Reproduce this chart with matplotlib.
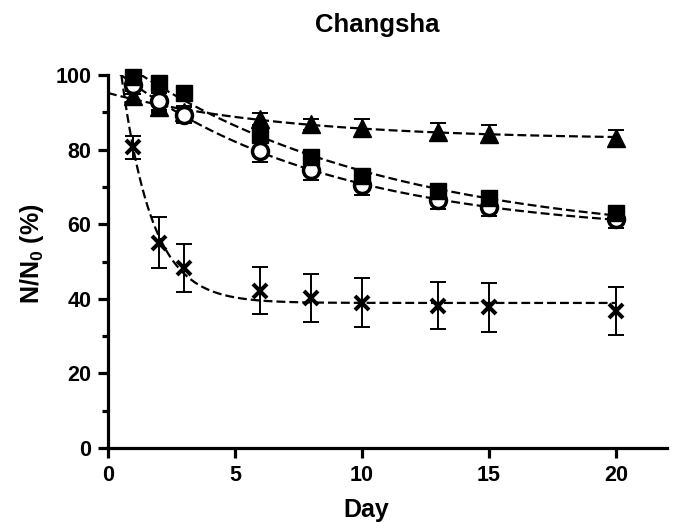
import numpy as np
import matplotlib
matplotlib.use('Agg')
import matplotlib.pyplot as plt

plt.rcParams['font.family'] = ['Liberation Sans', 'DejaVu Sans']
plt.rcParams['font.weight'] = 'bold'
plt.rcParams['mathtext.fontset'] = 'custom'
plt.rcParams['mathtext.rm'] = 'Liberation Sans:bold'
plt.rcParams['mathtext.it'] = 'Liberation Sans:bold'
plt.rcParams['mathtext.bf'] = 'Liberation Sans:bold'

# survival (% of initial) over days
days = np.array([1, 2, 3, 6, 8, 10, 13, 15, 20])
square = np.array([99.5, 97.8, 95.2, 84.0, 78.0, 73.0, 69.0, 67.0, 63.0])
square_err = np.array([1.2, 1.2, 1.2, 1.2, 1.2, 1.2, 1.2, 1.2, 1.2])
circle = np.array([97.3, 93.0, 89.3, 79.5, 74.5, 70.5, 66.5, 64.5, 61.5])
circle_err = np.array([2.5, 2.3, 2.3, 2.7, 2.7, 2.7, 2.3, 2.4, 2.4])
triangle = np.array([94.3, 91.5, 90.0, 88.2, 86.8, 85.8, 84.8, 84.2, 83.0])
triangle_err = np.array([1.5, 1.5, 1.5, 1.5, 1.5, 2.5, 2.4, 2.3, 2.3])
cross = np.array([80.6, 55.0, 48.2, 42.2, 40.2, 39.0, 38.2, 37.7, 36.7])
cross_err = np.array([3.1, 6.8, 6.5, 6.4, 6.5, 6.5, 6.4, 6.5, 6.5])


def fit_decay(x, y):
    # one-phase decay y = A*exp(-k*x) + C, grid over k, linear solve for A, C
    best = None
    for k in np.linspace(0.01, 3.0, 1500):
        basis = np.column_stack([np.exp(-k * x), np.ones_like(x, dtype=float)])
        coef = np.linalg.lstsq(basis, y, rcond=None)[0]
        err = np.sum((basis @ coef - y) ** 2)
        if best is None or err < best[0]:
            best = (err, k, coef)
    _, k, (a, c) = best
    return lambda t: a * np.exp(-k * t) + c


fig = plt.figure(figsize=(6.75, 5.23), dpi=100)
ax = fig.add_axes([0.16, 0.1434, 0.828, 0.7132])

t = np.linspace(0, 20, 400)
series = [
    (triangle, triangle_err, dict(marker='^', ms=12.5, mfc='black', mec='black', mew=1)),
    (circle, circle_err, dict(marker='o', ms=11.5, mfc='white', mec='black', mew=2.5)),
    (square, square_err, dict(marker='s', ms=11, mfc='black', mec='black', mew=1)),
    (cross, cross_err, dict(marker='x', ms=10, mfc='black', mec='black', mew=2.9)),
]

for z, (y, err, style) in enumerate(series):
    curve = fit_decay(days, y)
    ax.plot(t, curve(t), color='black', lw=1.6, dashes=(4, 1.8), zorder=2 + z)
    ax.errorbar(days, y, yerr=err, fmt='none', ecolor='black',
                elinewidth=1.4, capsize=6, capthick=1.4, zorder=3 + z,
                clip_on=False)
    ax.plot(days, y, ls='none', color='black', zorder=4 + z, clip_on=False,
            **style)

ax.set_xlim(0, 22)
ax.set_ylim(0, 100)
ax.set_xticks([0, 5, 10, 15, 20])
ax.set_yticks([0, 20, 40, 60, 80, 100])
ax.set_yticks([10, 30, 50, 70, 90], minor=True)

for side in ['top', 'right']:
    ax.spines[side].set_visible(False)
for side in ['left', 'bottom']:
    ax.spines[side].set_linewidth(2.3)

ax.tick_params(which='major', direction='out', length=7, width=2.3,
               labelsize=15.5, pad=5)
ax.tick_params(which='minor', direction='out', length=4, width=2.3)
for lbl in ax.get_xticklabels() + ax.get_yticklabels():
    lbl.set_fontweight('bold')

fig.text(377 / 675, 1 - 32 / 523, 'Changsha', ha='center', va='baseline',
         fontsize=18.5, fontweight='bold')
fig.text(366 / 675, 1 - 517 / 523, 'Day', ha='center', va='baseline',
         fontsize=18, fontweight='bold')
fig.text(32 / 675, 1 - 254 / 523, 'N/N$_0$ (%)', ha='center', va='center',
         rotation=90, fontsize=18, fontweight='bold')

fig.savefig('out.png', dpi=100)
